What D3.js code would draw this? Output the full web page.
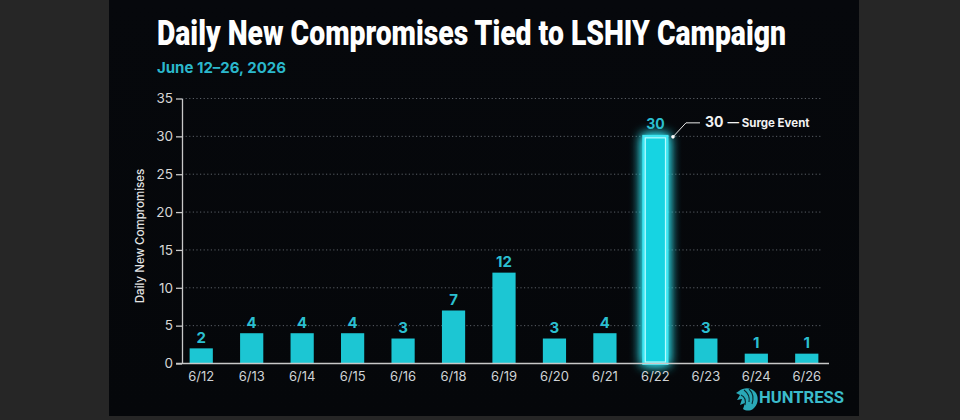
<!DOCTYPE html>
<html>
<head>
<meta charset="utf-8">
<script src="https://cdn.jsdelivr.net/npm/d3@7"></script>
<style>
  html, body { margin: 0; background: #262626; }
  svg { display: block; }
</style>
</head>
<body>
<svg id="chart" width="960" height="420"></svg>
<script>
// data
const dates = ["6/12", "6/13", "6/14", "6/15", "6/16", "6/18", "6/19", "6/20", "6/21", "6/22", "6/23", "6/24", "6/26"];
const compromises = [2, 4, 4, 4, 3.3, 7, 12, 3.3, 4, 30, 3.3, 1.3, 1.3];
const yTicks = [0, 5, 10, 15, 20, 25, 30, 35];
const surgeDate = "6/22";
const surgeNote = "Surge Event";

const svg = d3.select("#chart");
const defs = svg.append("defs");

const bg = defs.append("linearGradient").attr("id", "bg")
  .attr("x1", 0).attr("y1", 0).attr("x2", 0).attr("y2", 1);
bg.append("stop").attr("offset", "0%").attr("stop-color", "#06080c");
bg.append("stop").attr("offset", "100%").attr("stop-color", "#05070a");

const glow = defs.append("filter").attr("id", "glow")
  .attr("x", "-150%").attr("y", "-20%").attr("width", "400%").attr("height", "140%");
glow.append("feGaussianBlur").attr("stdDeviation", 6).attr("result", "b");
const merge = glow.append("feMerge");
merge.append("feMergeNode").attr("in", "b");
merge.append("feMergeNode").attr("in", "b");
merge.append("feMergeNode").attr("in", "SourceGraphic");

// dark panel
svg.append("rect")
  .attr("x", 109).attr("y", 0).attr("width", 750).attr("height", 416)
  .attr("fill", "url(#bg)");

// title + subtitle
svg.append("text")
  .attr("x", 157).attr("y", 45)
  .attr("font-family", "Roboto, 'Liberation Sans', sans-serif")
  .attr("font-weight", 900).attr("font-size", 35)
  .attr("fill", "#ffffff")
  .attr("textLength", 629).attr("lengthAdjust", "spacingAndGlyphs")
  .text("Daily New Compromises Tied to LSHIY Campaign");

svg.append("text")
  .attr("x", 157).attr("y", 73)
  .attr("font-family", "Inter, 'Noto Sans', sans-serif")
  .attr("font-weight", 700).attr("font-size", 15)
  .attr("fill", "#2bb8cc")
  .text("June 12\u201326, 2026");

// scales
const x = d3.scaleBand()
  .domain(dates)
  .range([176, 832])
  .paddingInner(0.54)
  .paddingOuter(0.27);

const y = d3.scaleLinear()
  .domain([0, 35])
  .range([363.5, 98.5]);

const axisX = 182;

// grid
svg.append("g")
  .selectAll("line")
  .data(yTicks.filter(d => d > 0))
  .enter()
  .append("line")
  .attr("x1", axisX).attr("x2", 822)
  .attr("y1", d => y(d)).attr("y2", d => y(d))
  .attr("stroke", "#5a5f66")
  .attr("stroke-width", 1)
  .attr("stroke-dasharray", "1.2,2.4");

// y axis
const gy = svg.append("g")
  .attr("transform", `translate(${axisX},0)`)
  .call(d3.axisLeft(y).tickValues(yTicks).tickSize(6).tickSizeOuter(0).tickPadding(3));
gy.select(".domain").attr("stroke", "#c8c8c8").attr("stroke-width", 1.3);
gy.selectAll(".tick line").attr("stroke", "#c8c8c8").attr("stroke-width", 1.3);
gy.selectAll(".tick text")
  .attr("fill", "#d6d6d6")
  .attr("font-family", "Inter, 'Noto Sans', sans-serif")
  .attr("font-size", 13.5);

svg.append("text")
  .attr("transform", "translate(143.5,236) rotate(-90)")
  .attr("text-anchor", "middle")
  .attr("font-family", "Inter, 'Noto Sans', sans-serif")
  .attr("font-weight", 500).attr("font-size", 11.5)
  .attr("fill", "#e4e4e4")
  .text("Daily New Compromises");

// bars
const normal = dates.map((d, i) => ({ date: d, value: compromises[i] }))
  .filter(d => d.date !== surgeDate);
const surge = { date: surgeDate, value: compromises[dates.indexOf(surgeDate)] };

svg.append("g")
  .selectAll("rect")
  .data(normal)
  .enter()
  .append("rect")
  .attr("x", d => x(d.date))
  .attr("y", d => y(d.value))
  .attr("width", x.bandwidth())
  .attr("height", d => y(0) - y(d.value))
  .attr("fill", "#1cc6d3");

// surge bar with glow
svg.append("rect")
  .attr("x", x(surge.date))
  .attr("y", y(surge.value))
  .attr("width", x.bandwidth())
  .attr("height", y(0) - y(surge.value))
  .attr("fill", "#18d4e2")
  .attr("stroke", "#3fe6f2")
  .attr("stroke-width", 3)
  .attr("filter", "url(#glow)");
svg.append("rect")
  .attr("x", x(surge.date) + 1.5)
  .attr("y", y(surge.value) + 1.5)
  .attr("width", x.bandwidth() - 3)
  .attr("height", y(0) - y(surge.value) - 3)
  .attr("fill", "none")
  .attr("stroke", "#b4fbff")
  .attr("stroke-width", 1.2);

// x axis
const gx = svg.append("g")
  .attr("transform", `translate(0,${y(0)})`)
  .call(d3.axisBottom(x).tickSize(0).tickSizeOuter(0).tickPadding(8));
gx.select(".domain").attr("stroke", "#c8c8c8").attr("stroke-width", 1.3)
  .attr("d", "M176,0H829");
gx.selectAll(".tick text")
  .attr("fill", "#cfd3d6")
  .attr("font-family", "Inter, 'Noto Sans', sans-serif")
  .attr("font-size", 13);

// value labels
const fmt = d3.format(".0f");
svg.append("g")
  .selectAll("text")
  .data(dates.map((d, i) => ({ date: d, value: compromises[i] })))
  .enter()
  .append("text")
  .attr("x", d => x(d.date) + x.bandwidth() / 2)
  .attr("y", d => y(d.value) - (d.date === surgeDate ? 7 : 5.5))
  .attr("text-anchor", "middle")
  .attr("font-family", "Inter, 'Noto Sans', sans-serif")
  .attr("font-weight", 700)
  .attr("font-size", d => d.date === surgeDate ? 14 : 15)
  .attr("fill", "#2bbfd0")
  .text(d => fmt(d.value));

// surge annotation
const ax = x(surge.date) + x.bandwidth() + 6;
const ay = y(surge.value) + 0.5;
svg.append("path")
  .attr("d", `M${ax},${ay} L${ax + 13},${ay - 14} H${ax + 27}`)
  .attr("fill", "none")
  .attr("stroke", "#e8e8e8")
  .attr("stroke-width", 1);
svg.append("circle")
  .attr("cx", ax).attr("cy", ay).attr("r", 1.8)
  .attr("fill", "#ffffff");
const note = svg.append("text")
  .attr("x", ax + 32).attr("y", ay - 9.5)
  .attr("font-family", "Inter, 'Noto Sans', sans-serif")
  .attr("font-weight", 700)
  .attr("fill", "#f2f2f2");
note.append("tspan").attr("font-size", 14).text(fmt(surge.value));
note.append("tspan").attr("font-size", 11.5).attr("dx", 4).text("\u2014 " + surgeNote);

// logo
const logo = svg.append("g").attr("transform", "translate(748,399)");
logo.append("path")
  .attr("d", "M-9,-8 C-4,-12 4,-12 8,-6 C11,-1 10,6 5,10 C2,12 -2,12 -5,10 L-3,4 L-8,6 L-6,0 L-11,1 L-8,-4 L-12,-6 Z")
  .attr("fill", "#2aa9b8");
logo.append("path")
  .attr("d", "M-4,-9 C0,-6 2,-2 1,3 M1,-10 C5,-6 6,-1 4,5 M-7,-4 C-3,-2 -2,2 -3,6")
  .attr("fill", "none")
  .attr("stroke", "#0a2a30")
  .attr("stroke-width", 1.1);
svg.append("text")
  .attr("x", 759).attr("y", 403)
  .attr("font-family", "Roboto, 'Liberation Sans', sans-serif")
  .attr("font-weight", 700).attr("font-size", 17)
  .attr("fill", "#3bbccb")
  .attr("textLength", 85).attr("lengthAdjust", "spacingAndGlyphs")
  .text("HUNTRESS");
</script>
</body>
</html>
